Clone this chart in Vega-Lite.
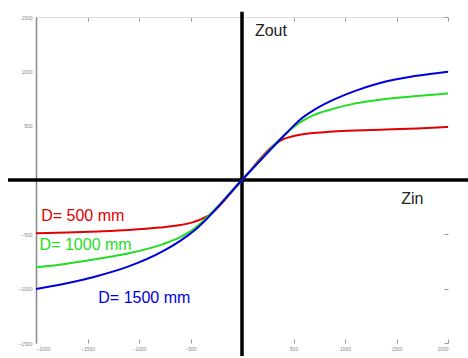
{
  "$schema": "https://vega.github.io/schema/vega-lite/v6.json",
  "width": 412,
  "height": 326,
  "autosize": {"type": "none"},
  "padding": {"left": 36, "top": 17, "right": 20, "bottom": 15},
  "background": "white",
  "config": {"view": {"stroke": null}, "font": "Liberation Sans"},
  "datasets": {
    "curves": [
      {"series": "D= 500 mm", "zin": -2000, "zout": -490},
      {"series": "D= 500 mm", "zin": -1700, "zout": -483},
      {"series": "D= 500 mm", "zin": -1400, "zout": -473},
      {"series": "D= 500 mm", "zin": -1100, "zout": -460},
      {"series": "D= 500 mm", "zin": -800, "zout": -438},
      {"series": "D= 500 mm", "zin": -600, "zout": -415},
      {"series": "D= 500 mm", "zin": -480, "zout": -390},
      {"series": "D= 500 mm", "zin": -400, "zout": -362},
      {"series": "D= 500 mm", "zin": -330, "zout": -330},
      {"series": "D= 500 mm", "zin": 0, "zout": 0},
      {"series": "D= 500 mm", "zin": 350, "zout": 350},
      {"series": "D= 500 mm", "zin": 400, "zout": 376},
      {"series": "D= 500 mm", "zin": 466, "zout": 396},
      {"series": "D= 500 mm", "zin": 563, "zout": 417},
      {"series": "D= 500 mm", "zin": 692, "zout": 432},
      {"series": "D= 500 mm", "zin": 850, "zout": 445},
      {"series": "D= 500 mm", "zin": 1100, "zout": 455},
      {"series": "D= 500 mm", "zin": 1340, "zout": 463},
      {"series": "D= 500 mm", "zin": 1700, "zout": 475},
      {"series": "D= 500 mm", "zin": 2000, "zout": 487},
      {"series": "D= 1000 mm", "zin": -2000, "zout": -804},
      {"series": "D= 1000 mm", "zin": -1700, "zout": -770},
      {"series": "D= 1000 mm", "zin": -1411, "zout": -727},
      {"series": "D= 1000 mm", "zin": -1100, "zout": -675},
      {"series": "D= 1000 mm", "zin": -767, "zout": -590},
      {"series": "D= 1000 mm", "zin": -600, "zout": -525},
      {"series": "D= 1000 mm", "zin": -460, "zout": -445},
      {"series": "D= 1000 mm", "zin": -380, "zout": -380},
      {"series": "D= 1000 mm", "zin": 0, "zout": 0},
      {"series": "D= 1000 mm", "zin": 430, "zout": 430},
      {"series": "D= 1000 mm", "zin": 563, "zout": 530},
      {"series": "D= 1000 mm", "zin": 700, "zout": 600},
      {"series": "D= 1000 mm", "zin": 854, "zout": 647},
      {"series": "D= 1000 mm", "zin": 1100, "zout": 705},
      {"series": "D= 1000 mm", "zin": 1340, "zout": 739},
      {"series": "D= 1000 mm", "zin": 1700, "zout": 772},
      {"series": "D= 1000 mm", "zin": 2000, "zout": 795},
      {"series": "D= 1500 mm", "zin": -2000, "zout": -1003},
      {"series": "D= 1500 mm", "zin": -1700, "zout": -950},
      {"series": "D= 1500 mm", "zin": -1411, "zout": -885},
      {"series": "D= 1500 mm", "zin": -1100, "zout": -795},
      {"series": "D= 1500 mm", "zin": -767, "zout": -655},
      {"series": "D= 1500 mm", "zin": -600, "zout": -560},
      {"series": "D= 1500 mm", "zin": -450, "zout": -455},
      {"series": "D= 1500 mm", "zin": 0, "zout": 0},
      {"series": "D= 1500 mm", "zin": 440, "zout": 440},
      {"series": "D= 1500 mm", "zin": 563, "zout": 555},
      {"series": "D= 1500 mm", "zin": 700, "zout": 645},
      {"series": "D= 1500 mm", "zin": 854, "zout": 723},
      {"series": "D= 1500 mm", "zin": 1100, "zout": 820},
      {"series": "D= 1500 mm", "zin": 1340, "zout": 893},
      {"series": "D= 1500 mm", "zin": 1700, "zout": 960},
      {"series": "D= 1500 mm", "zin": 2000, "zout": 997}
    ],
    "seriesLabels": [
      {"series": "D= 500 mm", "zin": -1950, "zout": -335},
      {"series": "D= 1000 mm", "zin": -1965, "zout": -595},
      {"series": "D= 1500 mm", "zin": -1395, "zout": -1086}
    ],
    "axisLabels": [
      {"label": "Zout", "zin": 125, "zout": 1367},
      {"label": "Zin", "zin": 1545, "zout": -172}
    ],
    "crossAxes": [
      {"x1": -2272, "x2": 2200, "y1": 0, "y2": 0},
      {"x1": 0, "x2": 0, "y1": 1549, "y2": -1620}
    ]
  },
  "layer": [
    {
      "data": {"name": "crossAxes"},
      "mark": {"type": "rule", "color": "black", "strokeWidth": 3.5, "clip": false},
      "encoding": {
        "x": {"field": "x1", "type": "quantitative", "scale": {"domain": [-2000, 2000], "nice": false, "zero": false},
          "axis": {"orient": "top", "title": null, "labels": false, "grid": false, "domain": true, "domainColor": "#dddddd", "domainWidth": 1, "ticks": true, "tickSize": -4, "tickColor": "#999999", "values": [-2000, -1500, -1000, -500, 500, 1000, 1500, 2000]}},
        "x2": {"field": "x2"},
        "y": {"field": "y1", "type": "quantitative", "scale": {"domain": [-1500, 1500], "nice": false, "zero": false},
          "axis": {"orient": "right", "title": null, "labels": false, "grid": false, "domain": false, "ticks": true, "tickSize": -4, "tickColor": "#999999", "values": [-1500, -1000, -500, 500, 1000, 1500]}},
        "y2": {"field": "y2"}
      }
    },
    {
      "data": {"name": "curves"},
      "mark": {"type": "line", "strokeWidth": 2, "interpolate": "monotone"},
      "encoding": {
        "x": {"field": "zin", "type": "quantitative",
          "axis": {"orient": "bottom", "title": null, "grid": false, "domain": false, "ticks": true, "tickSize": -4, "tickColor": "#999999", "format": "d", "labelFontSize": 5, "labelColor": "#888888", "labelPadding": 7, "values": [-2000, -1500, -1000, -500, 500, 1000, 1500, 2000]}},
        "y": {"field": "zout", "type": "quantitative",
          "axis": {"orient": "left", "title": null, "grid": false, "domain": true, "domainColor": "#888888", "domainWidth": 1.5, "ticks": false, "format": "d", "labelFontSize": 5, "labelColor": "#888888", "labelPadding": 4, "values": [-1500, -1000, -500, 500, 1000, 1500]}},
        "color": {"field": "series", "type": "nominal", "legend": null,
          "scale": {"domain": ["D= 500 mm", "D= 1000 mm", "D= 1500 mm"], "range": ["#e00000", "#22dd22", "#0000dd"]}}
      }
    },
    {
      "data": {"name": "seriesLabels"},
      "mark": {"type": "text", "align": "left", "baseline": "middle", "fontSize": 16, "font": "Liberation Sans"},
      "encoding": {
        "x": {"field": "zin", "type": "quantitative", "axis": null},
        "y": {"field": "zout", "type": "quantitative", "axis": null},
        "text": {"field": "series"},
        "color": {"field": "series", "type": "nominal", "legend": null}
      }
    },
    {
      "data": {"name": "axisLabels"},
      "mark": {"type": "text", "align": "left", "baseline": "middle", "fontSize": 16, "font": "Liberation Sans", "color": "#222222"},
      "encoding": {
        "x": {"field": "zin", "type": "quantitative", "axis": null},
        "y": {"field": "zout", "type": "quantitative", "axis": null},
        "text": {"field": "label"}
      }
    }
  ],
  "resolve": {"axis": {"x": "independent", "y": "independent"}}
}
